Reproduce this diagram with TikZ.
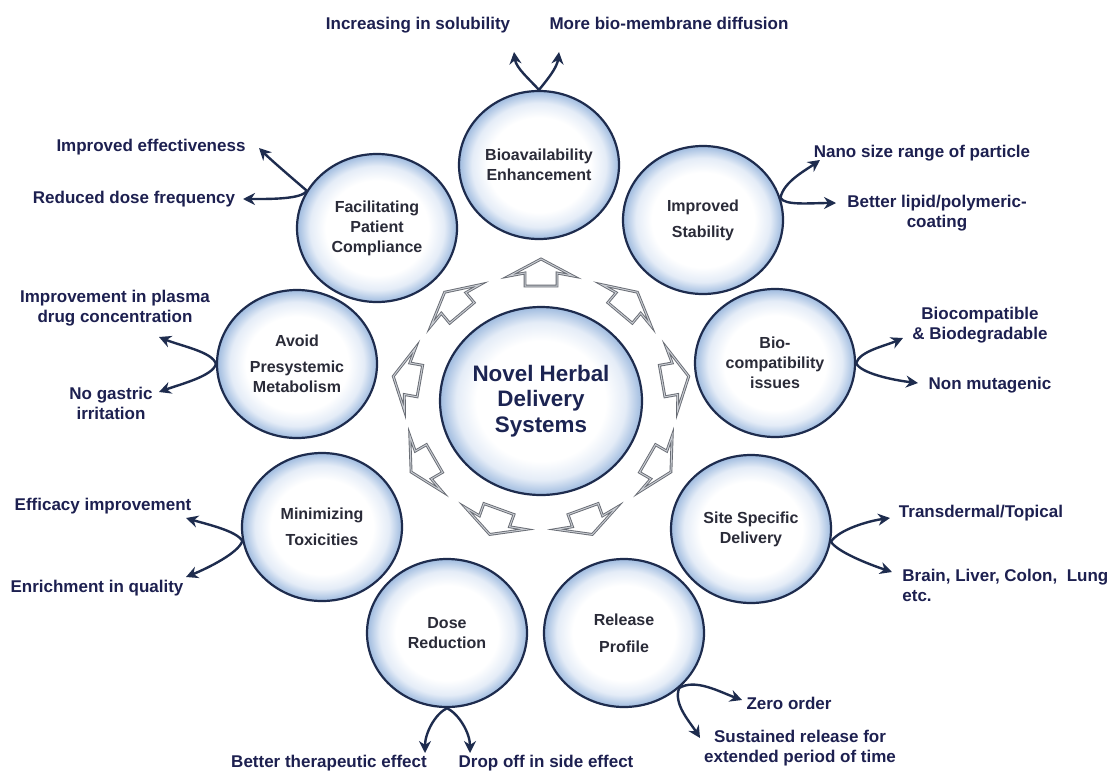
\documentclass[tikz,border=0pt]{standalone}
\usepackage{fontspec}
\setmainfont{Liberation Sans}
\usetikzlibrary{shapes.geometric,arrows.meta}

\definecolor{rim}{HTML}{1E2C4E}
\definecolor{bubbleblue}{HTML}{9FBBDF}
\definecolor{bubblepale}{HTML}{E4ECF7}
\definecolor{labelink}{HTML}{1D2050}
\definecolor{bubbleink}{HTML}{2A2B38}
\definecolor{hubink}{HTML}{1C2452}
\definecolor{flowgray}{HTML}{676B73}
\definecolor{flowlight}{HTML}{C9CCD2}

\pgfdeclareradialshading{bubble}{\pgfpoint{0bp}{0bp}}{%
  color(0bp)=(white); color(16bp)=(white); color(21bp)=(bubblepale);
  color(25bp)=(bubbleblue); color(50bp)=(bubbleblue)}

\begin{document}
\begin{tikzpicture}[x=0.5pt,y=-0.5pt]
\tikzstyle{bubble}=[ellipse,draw=rim,line width=1.1pt,shade,shading=bubble,
  minimum width=80pt,minimum height=74pt,inner sep=0pt,align=center,
  text=bubbleink,font=\bfseries\fontsize{8}{10}\selectfont]
\tikzstyle{hub}=[bubble,minimum width=101pt,minimum height=94pt,
  text=hubink,font=\bfseries\fontsize{11.2}{12.6}\selectfont]
\tikzstyle{note}=[align=center,inner sep=1pt,text=labelink,
  font=\bfseries\fontsize{8.5}{10}\selectfont]
\tikzstyle{flow}=[draw=flowgray,double=flowlight,double distance=0.5pt,
  line width=0.45pt,line join=miter]
\tikzstyle{branch}=[draw=rim,line width=1.2pt,-{Stealth[length=6pt,width=6pt]}]

\fill[white] (0,0) rectangle (1112,771);
\useasboundingbox (0,0) rectangle (1112,771);

% hub and the ring of bubbles
\node[hub] (hub) at (541,401) {Novel Herbal\\Delivery\\Systems};
\node[bubble] (bio) at (539,165) {Bioavailability\\Enhancement};
\node[bubble] (fac) at (377,228) {Facilitating\\Patient\\Compliance};
\node[bubble] (stab) at (703,220) {Improved\\[3pt]Stability};
\node[bubble] (avoid) at (297,364) {Avoid\\[3pt]Presystemic\\Metabolism};
\node[bubble] (compat) at (775,363) {Bio-\\compatibility\\issues};
\node[bubble] (tox) at (322,527) {Minimizing\\[3pt]Toxicities};
\node[bubble] (site) at (751,529) {Site Specific\\Delivery};
\node[bubble] (dose) at (447,633) {Dose\\Reduction};
\node[bubble] (rel) at (624,633) {Release\\[3.5pt]Profile};

% hollow arrows round the hub, pointing outwards
\foreach \a in {90,50,...,-230}
  \draw[flow,shift={({541+136*cos(\a)},{401-128*sin(\a)})},rotate=\a]
    (-13,-16) -- (0,-16) -- (-3,-32) -- (14,0) -- (-3,32) -- (0,16)
    -- (-13,16) -- cycle;

% outcomes
\node[note] (sol) at (418,25) {Increasing in solubility};
\node[note] (diff) at (669,23) {More bio-membrane diffusion};
\node[note] (eff) at (151,147) {Improved effectiveness};
\node[note] (freq) at (134,199) {Reduced dose frequency};
\node[note] (nano) at (922,153) {Nano size range of particle};
\node[note] (coat) at (937,213) {Better lipid/polymeric-\\coating};
\node[note] (plasma) at (115,308) {Improvement in plasma\\drug concentration};
\node[note] (gastric) at (111,403) {No gastric\\irritation};
\node[note] (biodeg) at (980,325) {Biocompatible\\\& Biodegradable};
\node[note] (nonmut) at (990,385) {Non mutagenic};
\node[note] (effi) at (103,506) {Efficacy improvement};
\node[note] (qual) at (97,588) {Enrichment in quality};
\node[note] (derm) at (981,513) {Transdermal/Topical};
\node[note,anchor=west,align=left] (organ) at (900,585) {Brain, Liver, Colon,\ \ Lung\\etc.};
\node[note] (thera) at (329,763) {Better therapeutic effect};
\node[note] (side) at (546,763) {Drop off in side effect};
\node[note] (zero) at (789,703) {Zero order};
\node[note] (sust) at (800,748) {Sustained release for\\extended period of time};

% arrow tips next to the outcomes
\coordinate (solTip) at (514,52);
\coordinate (diffTip) at (559,52);
\coordinate (effTip) at (259,148);
\coordinate (freqTip) at (243,199);
\coordinate (nanoTip) at (820,160);
\coordinate (coatTip) at (836,203);
\coordinate (plasmaTip) at (159,337);
\coordinate (gastricTip) at (159,392);
\coordinate (biodegTip) at (903,338);
\coordinate (nonmutTip) at (918,383);
\coordinate (effiTip) at (186,518);
\coordinate (qualTip) at (186,577);
\coordinate (dermTip) at (890,518);
\coordinate (organTip) at (892,572);
\coordinate (zeroTip) at (742,700);
\coordinate (sustTip) at (700,738);
\coordinate (theraTip) at (425,753);
\coordinate (sideTip) at (470,753);

\draw[branch] (bio.north) .. controls +(-9,-10) and +(2,16) .. (solTip);
\draw[branch] (bio.north) .. controls +(8,-10) and +(-2,16) .. (diffTip);
\draw[branch] (fac.152) .. controls +(-14,-12) and +(12,12) .. (effTip);
\draw[branch] (fac.152) .. controls +(-4,9) and +(24,0) .. (freqTip);
\draw[branch] (stab.16) .. controls +(3,-16) and +(-14,10) .. (nanoTip);
\draw[branch] (stab.16) .. controls +(4,8) and +(-26,0) .. (coatTip);
\draw[branch] (avoid.west) .. controls +(-3,-12) and +(22,9) .. (plasmaTip);
\draw[branch] (avoid.west) .. controls +(-3,12) and +(22,-8) .. (gastricTip);
\draw[branch] (compat.east) .. controls +(4,-12) and +(-18,8) .. (biodegTip);
\draw[branch] (compat.east) .. controls +(4,10) and +(-26,-3) .. (nonmutTip);
\draw[branch] (tox.190) .. controls +(-5,-10) and +(20,6) .. (effiTip);
\draw[branch] (tox.190) .. controls +(-4,12) and +(22,-9) .. (qualTip);
\draw[branch] (site.-9) .. controls +(8,-12) and +(-22,3) .. (dermTip);
\draw[branch] (site.-9) .. controls +(6,10) and +(-24,-8) .. (organTip);
\draw[branch] (rel.-45) .. controls +(16,-10) and +(-22,-8) .. (zeroTip);
\draw[branch] (rel.-45) .. controls +(-6,16) and +(-10,-16) .. (sustTip);
\draw[branch] (dose.south) .. controls +(-12,6) and +(0,-20) .. (theraTip);
\draw[branch] (dose.south) .. controls +(12,6) and +(0,-20) .. (sideTip);
\end{tikzpicture}
\end{document}
